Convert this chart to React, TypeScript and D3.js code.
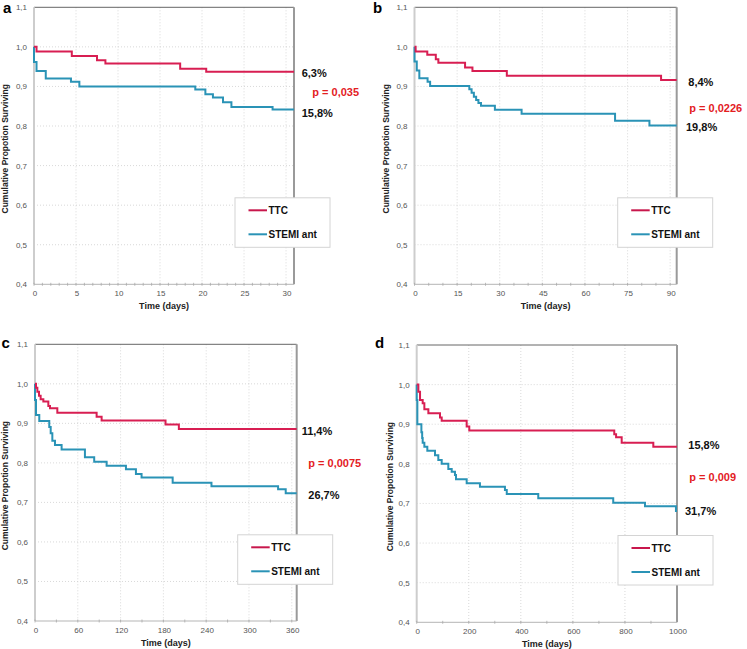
import * as d3 from "d3";

// ---- data ----
const seriesNames = ["TTC", "STEMI ant"];
const seriesColors = ["#d81e52", "#2a93b6"];
const yTicks = [0.4, 0.5, 0.6, 0.7, 0.8, 0.9, 1.0, 1.1];

// panel a: 30 days
const aTtcTime = [0, 0.3, 4.5, 7.5, 8.5, 17.4, 20.5, 30.95];
const aTtcSurv = [1.0, 0.988, 0.977, 0.966, 0.958, 0.945, 0.937, 0.937];
const aStemiTime = [0, 0, 0.3, 1.4, 4.4, 5.4, 19.2, 20.4, 21.3, 22.5, 23.5, 28.4, 30.95];
const aStemiSurv = [1.0, 0.962, 0.939, 0.92, 0.912, 0.9, 0.892, 0.88, 0.872, 0.86, 0.848, 0.842, 0.842];

// panel b: 90 days
const bTtcTime = [0, 0.4, 4.5, 7.5, 8.4, 17.8, 20.4, 32.5, 86.8, 92.3];
const bTtcSurv = [1.0, 0.988, 0.98, 0.969, 0.96, 0.948, 0.939, 0.927, 0.916, 0.916];
const bStemiTime = [0, 0, 0.8, 1.7, 4.6, 5.5, 19.3, 20.1, 20.9, 21.7, 22.5, 23.4, 28.3, 37.7, 70.6, 82.7, 92.3];
const bStemiSurv = [1.0, 0.963, 0.94, 0.921, 0.912, 0.901, 0.893, 0.884, 0.874, 0.866, 0.858, 0.851, 0.841, 0.831, 0.813, 0.801, 0.801];

// panel c: 360 days
const cTtcTime = [0, 1.4, 3.3, 5.6, 7.9, 11.7, 18.7, 21, 31.3, 86.4, 93.4, 183, 201.7, 366.9];
const cTtcSurv = [1.0, 0.99, 0.98, 0.97, 0.961, 0.955, 0.944, 0.938, 0.927, 0.917, 0.907, 0.897, 0.886, 0.886];
const cStemiTime = [0, 0, 1.4, 6, 20, 22, 24.3, 28, 37.3, 70, 83, 100.4, 127.5, 141.5, 149.4, 193, 247.4, 340.8, 351.5, 366.9];
const cStemiSurv = [1.0, 0.959, 0.921, 0.906, 0.891, 0.875, 0.856, 0.845, 0.834, 0.814, 0.803, 0.793, 0.784, 0.772, 0.763, 0.75, 0.741, 0.733, 0.723, 0.723];

// panel d: 1000 days
const dTtcTime = [0, 6.4, 12.8, 23, 29.4, 44.8, 89.5, 96, 192, 202, 759, 766, 787.5, 909, 1000];
const dTtcSurv = [1.0, 0.982, 0.961, 0.953, 0.938, 0.928, 0.917, 0.909, 0.894, 0.884, 0.875, 0.867, 0.853, 0.843, 0.843];
const dStemiTime = [0, 0, 2.5, 18, 21, 23, 29.4, 40.8, 70.3, 83, 96, 121.5, 134.5, 147, 151, 192, 243, 339, 346, 467, 755, 877, 996, 1000];
const dStemiSurv = [1.0, 0.961, 0.9, 0.88, 0.865, 0.853, 0.843, 0.833, 0.822, 0.81, 0.8, 0.787, 0.78, 0.772, 0.761, 0.751, 0.742, 0.734, 0.724, 0.713, 0.702, 0.693, 0.681, 0.681];

const panelLetters = ["a", "b", "c", "d"];
const ttcLabels = ["6,3%", "8,4%", "11,4%", "15,8%"];
const stemiLabels = ["15,8%", "19,8%", "26,7%", "31,7%"];
const pLabels = ["p = 0,035", "p = 0,0226", "p = 0,0075", "p = 0,009"];

// ---- layout ----
const panels = [
  {
    left: 34, right: 294, top: 7.3, bottom: 284.3, xMax: 30.95, step: 5, minor: 1, last: 30,
    ttc: [aTtcTime, aTtcSurv], stemi: [aStemiTime, aStemiSurv],
    letter: [3, 12.5], ttcPos: [301.7, 76.7], pPos: [312.3, 96.3], stemiPos: [301.7, 117.3], yLabX: 5,
  },
  {
    left: 414.5, right: 676.7, top: 7.3, bottom: 284.3, xMax: 92.3, step: 15, minor: 5, last: 90,
    ttc: [bTtcTime, bTtcSurv], stemi: [bStemiTime, bStemiSurv],
    letter: [373, 13.3], ttcPos: [688.3, 85.7], pPos: [689.3, 111.7], stemiPos: [686, 130.7], yLabX: 386,
  },
  {
    left: 35, right: 296.7, top: 344.3, bottom: 621, xMax: 366.9, step: 60, minor: 30, last: 360,
    ttc: [cTtcTime, cTtcSurv], stemi: [cStemiTime, cStemiSurv],
    letter: [1.5, 348.3], ttcPos: [301.7, 435], pPos: [308.3, 467.3], stemiPos: [308.3, 499], yLabX: 5,
  },
  {
    left: 416.7, right: 677, top: 345, bottom: 622.3, xMax: 1000, step: 200, minor: 100, last: 1000,
    ttc: [dTtcTime, dTtcSurv], stemi: [dStemiTime, dStemiSurv],
    letter: [375, 348.3], ttcPos: [688.3, 449], pPos: [689.3, 480.7], stemiPos: [685, 515], yLabX: 390,
  },
];

const FONT = "'Liberation Sans', Arial, sans-serif";
const fmt = (v: number) => v.toFixed(1).replace(".", ",");

function Panel({ p, i }: { p: any; i: number }) {
  const x = d3.scaleLinear().domain([0, p.xMax]).range([p.left, p.right]);
  const y = d3.scaleLinear().domain([0.4, 1.1]).range([p.bottom, p.top]);
  const line = d3
    .line<[number, number]>()
    .x((d) => x(d[0]))
    .y((d) => y(d[1]))
    .curve(d3.curveStepAfter);
  const xTicks = d3.range(0, p.last + 0.001, p.step);
  const minorTicks = d3.range(0, p.xMax, p.minor);
  const series = [p.ttc, p.stemi];
  const lg = { x: p.right - 59, y: p.top + 190.5 };
  const midY = (p.top + p.bottom) / 2 + 3;

  return (
    <g>
      {/* grid */}
      {yTicks.slice(1, -1).map((t) => (
        <line key={"gy" + t} x1={p.left} x2={p.right} y1={y(t)} y2={y(t)}
          stroke="#cfcfcf" strokeWidth={0.8} strokeDasharray="1,2" />
      ))}
      {xTicks.slice(1).map((t) => (
        <line key={"gx" + t} x1={x(t)} x2={x(t)} y1={p.top} y2={p.bottom}
          stroke="#cfcfcf" strokeWidth={0.8} strokeDasharray="1,2" />
      ))}
      {/* frame */}
      <line x1={p.left} x2={p.right} y1={p.top} y2={p.top} stroke="#666" strokeWidth={1} />
      <line x1={p.right} x2={p.right} y1={p.top} y2={p.bottom} stroke="#9a9a9a" strokeWidth={2} />
      <line x1={p.left} x2={p.left} y1={p.top} y2={p.bottom} stroke="#cdcdcd" strokeWidth={2} />
      <line x1={p.left} x2={p.right} y1={p.bottom} y2={p.bottom} stroke="#b5b5b5" strokeWidth={1} />
      {minorTicks.map((t) => (
        <line key={"mt" + t} x1={x(t)} x2={x(t)} y1={p.bottom - 1.5} y2={p.bottom + 1.5}
          stroke="#aaa" strokeWidth={0.8} />
      ))}
      {/* tick labels */}
      {yTicks.map((t) => (
        <text key={"yl" + t} x={p.left - 7} y={y(t) + 3} textAnchor="end" fontSize={8}
          fill="#555" fontFamily={FONT}>{fmt(t)}</text>
      ))}
      {xTicks.map((t) => (
        <text key={"xl" + t} x={x(t) + 1} y={p.bottom + 12} textAnchor="middle" fontSize={8}
          fill="#555" fontFamily={FONT}>{t}</text>
      ))}
      <text x={(p.left + p.right) / 2} y={p.bottom + 25} textAnchor="middle" fontSize={9}
        fontWeight="bold" fill="#222" fontFamily={FONT}>Time (days)</text>
      <text transform={`translate(${p.yLabX + 3},${midY}) rotate(-90)`} textAnchor="middle"
        fontSize={8.5} fontWeight="bold" fill="#222" fontFamily={FONT}>
        Cumulative Propotion Surviving
      </text>
      {/* curves */}
      {[1, 0].map((k) => {
        const [ts, ss] = series[k];
        const pts = ts.map((t: number, j: number) => [t, ss[j]] as [number, number]);
        return (
          <path key={"c" + k} d={line(pts) || ""} fill="none" stroke={seriesColors[k]}
            strokeWidth={2} />
        );
      })}
      {/* legend */}
      <rect x={lg.x} y={lg.y} width={95} height={49.5} fill="#fff" stroke="#d4d4d4" strokeWidth={1} />
      {seriesNames.map((n, k) => (
        <g key={n}>
          <line x1={lg.x + 13.5} x2={lg.x + 32} y1={lg.y + 12.5 + k * 24} y2={lg.y + 12.5 + k * 24}
            stroke={k === 0 ? "#c8174c" : seriesColors[1]} strokeWidth={2} />
          <text x={lg.x + 33.5} y={lg.y + 16 + k * 24} fontSize={10} fontWeight="bold"
            fill="#111" fontFamily={FONT}>{n}</text>
        </g>
      ))}
      {/* annotations */}
      <text x={p.ttcPos[0]} y={p.ttcPos[1]} fontSize={11} fontWeight="bold" fill="#111"
        fontFamily={FONT}>{ttcLabels[i]}</text>
      <text x={p.pPos[0]} y={p.pPos[1]} fontSize={11} fontWeight="bold" fill="#e3201f"
        fontFamily={FONT}>{pLabels[i]}</text>
      <text x={p.stemiPos[0]} y={p.stemiPos[1]} fontSize={11} fontWeight="bold" fill="#111"
        fontFamily={FONT}>{stemiLabels[i]}</text>
      <text x={p.letter[0]} y={p.letter[1]} fontSize={15} fontWeight="bold" fill="#000"
        fontFamily={FONT}>{panelLetters[i]}</text>
    </g>
  );
}

export default function App() {
  return (
    <svg width={747} height={649} style={{ position: "absolute", left: 0, top: 0, background: "#fff" }}>
      <rect width={747} height={649} fill="#fff" />
      {panels.map((p, i) => (
        <Panel key={i} p={p} i={i} />
      ))}
    </svg>
  );
}
